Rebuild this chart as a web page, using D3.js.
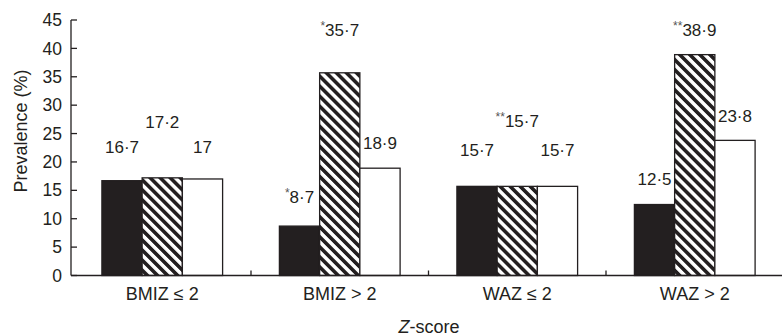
<!DOCTYPE html>
<html>
<head>
<meta charset="utf-8">
<script src="https://cdn.jsdelivr.net/npm/d3@7"></script>
<style>
  html, body { margin: 0; padding: 0; background: #fff; }
  svg { display: block; font-family: "Liberation Sans", Arial, sans-serif; }
</style>
</head>
<body>
<svg id="chart" width="782" height="336"></svg>
<script>
// ---- data ----
const categories = ["BMIZ \u2264 2", "BMIZ > 2", "WAZ \u2264 2", "WAZ > 2"];
const seriesKeys = ["solid", "hatched", "open"];
const solidValues = [16.7, 8.7, 15.7, 12.5];
const hatchedValues = [17.2, 35.7, 15.7, 38.9];
const openValues = [17, 18.9, 15.7, 23.8];
const solidMarks = ["", "*", "", ""];
const hatchedMarks = ["", "*", "**", "**"];
const openMarks = ["", "", "", ""];
// height (in % units) at which each value label sits in the figure
const solidLabelLevel = [21.6, 12.8, 21.1, 16.0];
const hatchedLabelLevel = [26.0, 42.1, 26.1, 42.1];
const openLabelLevel = [21.6, 22.2, 21.1, 27.1];
const yTicks = [0, 5, 10, 15, 20, 25, 30, 35, 40, 45];

// ---- build rows ----
const valuesByKey = { solid: solidValues, hatched: hatchedValues, open: openValues };
const marksByKey = { solid: solidMarks, hatched: hatchedMarks, open: openMarks };
const levelByKey = { solid: solidLabelLevel, hatched: hatchedLabelLevel, open: openLabelLevel };
const rows = [];
categories.forEach((c, i) => {
  seriesKeys.forEach(k => {
    rows.push({ cat: c, key: k, value: valuesByKey[k][i], mark: marksByKey[k][i], level: levelByKey[k][i] });
  });
});

const svg = d3.select("#chart");
const ink = "#231f20";

const x = d3.scaleBand().domain(categories).range([73.5, 783.5]).paddingInner(0).paddingOuter(0);
const groupW = x.bandwidth() * 0.68;
const x1 = d3.scaleBand().domain(seriesKeys).range([0, groupW]);
const groupOffset = (x.bandwidth() - groupW) / 2;
const y = d3.scaleLinear().domain([0, 45]).range([275.5, 20]);

// hatch pattern
const defs = svg.append("defs");
const pat = defs.append("pattern")
  .attr("id", "hatch")
  .attr("patternUnits", "userSpaceOnUse")
  .attr("width", 7.1).attr("height", 7.1)
  .attr("patternTransform", "rotate(-45)");
pat.append("rect").attr("width", 7.1).attr("height", 7.1).attr("fill", "#fff");
pat.append("rect").attr("x", 0).attr("width", 3.6).attr("height", 7.1).attr("fill", ink);

const fills = { solid: ink, hatched: "url(#hatch)", open: "#fff" };

// bars
svg.append("g").selectAll("rect").data(rows).join("rect")
  .attr("x", d => x(d.cat) + groupOffset + x1(d.key))
  .attr("y", d => y(d.value))
  .attr("width", x1.bandwidth())
  .attr("height", d => y(0) - y(d.value))
  .attr("fill", d => fills[d.key])
  .attr("stroke", ink)
  .attr("stroke-width", 1.3);

// y axis
const axisX = 71;
const yAxis = svg.append("g");
yAxis.append("line").attr("x1", axisX).attr("x2", axisX).attr("y1", y(45)).attr("y2", y(0))
  .attr("stroke", ink).attr("stroke-width", 1.3);
yAxis.selectAll("line.tick").data(yTicks).join("line").attr("class", "tick")
  .attr("x1", axisX).attr("x2", axisX + 6)
  .attr("y1", d => y(d)).attr("y2", d => y(d))
  .attr("stroke", ink).attr("stroke-width", 1.3);
yAxis.selectAll("text").data(yTicks).join("text")
  .attr("x", axisX - 9).attr("y", d => y(d))
  .attr("dy", "0.35em")
  .attr("text-anchor", "end")
  .attr("font-size", 17.5)
  .attr("fill", ink)
  .text(d => d);

// x axis
const xAxis = svg.append("g");
xAxis.append("line").attr("x1", axisX).attr("x2", 782).attr("y1", y(0)).attr("y2", y(0))
  .attr("stroke", ink).attr("stroke-width", 1.3);
xAxis.selectAll("line.tick").data(categories.slice(1)).join("line").attr("class", "tick")
  .attr("x1", d => x(d)).attr("x2", d => x(d))
  .attr("y1", y(0)).attr("y2", y(0) - 5)
  .attr("stroke", ink).attr("stroke-width", 1.3);
xAxis.selectAll("text").data(categories).join("text")
  .attr("x", d => x(d) + x.bandwidth() / 2).attr("y", 300)
  .attr("text-anchor", "middle")
  .attr("font-size", 18)
  .attr("fill", ink)
  .text(d => d);

// value labels
const fmt = v => String(v).replace(".", "\u00b7");
const labels = svg.append("g").selectAll("text").data(rows).join("text")
  .attr("x", d => x(d.cat) + groupOffset + x1(d.key) + x1.bandwidth() / 2)
  .attr("y", d => y(d.level))
  .attr("text-anchor", "middle")
  .attr("font-size", 17)
  .attr("fill", ink);
labels.each(function(d) {
  const t = d3.select(this);
  if (d.mark) {
    t.append("tspan").attr("font-size", 12).attr("dy", -6).attr("fill", "#555").text(d.mark);
    t.append("tspan").attr("dy", 6).text(fmt(d.value));
  } else {
    t.text(fmt(d.value));
  }
});

// axis titles
svg.append("text")
  .attr("transform", `translate(27, 131) rotate(-90)`)
  .attr("text-anchor", "middle")
  .attr("font-size", 18)
  .attr("fill", ink)
  .text("Prevalence (%)");

const xt = svg.append("text")
  .attr("x", 429).attr("y", 333)
  .attr("text-anchor", "middle")
  .attr("font-size", 18)
  .attr("fill", ink);
xt.append("tspan").attr("font-style", "italic").text("Z");
xt.append("tspan").text("-score");
</script>
</body>
</html>
